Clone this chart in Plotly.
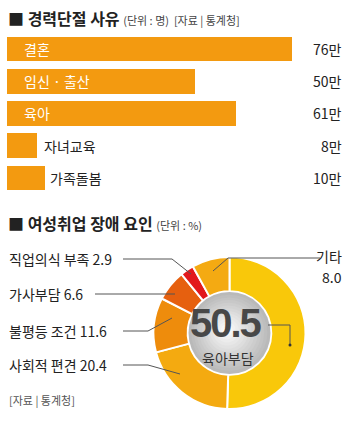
import plotly.graph_objects as go

W, H = 350, 422

# ---- data ----
bar_categories = ["결혼", "임신 · 출산", "육아", "자녀교육", "가족돌봄"]
bar_values = [76, 50, 61, 8, 10]
bar_value_labels = ["76만", "50만", "61만", "8만", "10만"]

pie_labels = ["육아부담", "사회적 편견", "불평등 조건", "가사부담", "직업의식 부족", "기타"]
pie_values = [50.5, 20.4, 11.6, 6.6, 2.9, 8.0]
pie_colors = ["#F9C80A", "#F4AA10", "#EE8C0C", "#E6600F", "#E2181C", "#F4AA12"]

FONT = "Noto Sans CJK KR"
BAR_COLOR = "#F39A10"


def px(x):
    return x / W


def py(y):
    return 1 - y / H


fig = go.Figure()

fig.add_trace(go.Bar(
    x=bar_values, y=bar_categories, orientation="h",
    marker=dict(color=BAR_COLOR, line=dict(width=0)),
    width=0.76, hoverinfo="skip", xaxis="x", yaxis="y",
))

fig.add_trace(go.Pie(
    labels=pie_labels, values=pie_values, sort=False, direction="clockwise",
    rotation=0, hole=0.55, textinfo="none", showlegend=False,
    marker=dict(colors=pie_colors, line=dict(color="white", width=2)),
    domain=dict(x=[px(153.5), px(305.5)], y=[py(409), py(257)]),
))

annotations = []
shapes = []

# titles
annotations.append(dict(
    x=px(6), y=py(18), xref="paper", yref="paper", xanchor="left", yanchor="middle",
    showarrow=False,
    text="<b>■ 경력단절 사유</b> <span style='font-size:11px;color:#444'>(단위 : 명)  [자료 | 통계청]</span>",
    font=dict(family=FONT, size=16, color="#222"),
))
annotations.append(dict(
    x=px(6), y=py(223), xref="paper", yref="paper", xanchor="left", yanchor="middle",
    showarrow=False,
    text="<b>■ 여성취업 장애 요인</b> <span style='font-size:11px;color:#444'>(단위 : %)</span>",
    font=dict(family=FONT, size=16, color="#222"),
))
annotations.append(dict(
    x=px(7), y=py(400), xref="paper", yref="paper", xanchor="left", yanchor="middle",
    showarrow=False, text="[자료 | 통계청]",
    font=dict(family=FONT, size=11, color="#555"),
))

# bar labels
label_x = [22, 22, 22, 42, 48]
label_col = ["white", "white", "white", "#222", "#222"]
for cat, lx, lc, vl in zip(bar_categories, label_x, label_col, bar_value_labels):
    annotations.append(dict(
        x=px(lx), y=cat, xref="paper", yref="y", xanchor="left", yanchor="middle",
        showarrow=False, text=cat, font=dict(family=FONT, size=14, color=lc),
    ))
    annotations.append(dict(
        x=px(344), y=cat, xref="paper", yref="y", xanchor="right", yanchor="middle",
        showarrow=False, text=vl, font=dict(family=FONT, size=14, color="#222"),
    ))

# pie center gradient
cx, cy = 229.5, 333
steps = 14
r0 = 41
for i in range(steps):
    r = r0 * (1 - i / steps)
    t = i / (steps - 1)
    g = int(185 + (252 - 185) * t)
    col = f"rgb({g},{g},{g})"
    ox, oy = -3 * t, -3 * t
    shapes.append(dict(
        type="circle", xref="paper", yref="paper",
        x0=px(cx + ox - r), x1=px(cx + ox + r), y0=py(cy + oy + r), y1=py(cy + oy - r),
        fillcolor=col, line=dict(width=0), layer="above",
    ))

annotations.append(dict(
    x=px(226), y=py(323), xref="paper", yref="paper", xanchor="center", yanchor="middle",
    showarrow=False, text="<b><span style='letter-spacing:-2px'>50.5</span></b>",
    font=dict(family="Liberation Sans", size=40, color="#484848"),
))
annotations.append(dict(
    x=px(228), y=py(358), xref="paper", yref="paper", xanchor="center", yanchor="middle",
    showarrow=False, text="육아부담",
    font=dict(family=FONT, size=14, color="#333"),
))

# pie outside labels
side_labels = [
    ("직업의식 부족 2.9", 259),
    ("가사부담 6.6", 294),
    ("불평등 조건 11.6", 331),
    ("사회적 편견 20.4", 365),
]
for txt, yy in side_labels:
    annotations.append(dict(
        x=px(7), y=py(yy), xref="paper", yref="paper", xanchor="left", yanchor="middle",
        showarrow=False, text=txt, font=dict(family=FONT, size=14, color="#222"),
    ))
annotations.append(dict(
    x=px(344), y=py(256), xref="paper", yref="paper", xanchor="right", yanchor="middle",
    showarrow=False, text="기타", font=dict(family=FONT, size=14, color="#222"),
))
annotations.append(dict(
    x=px(344), y=py(277), xref="paper", yref="paper", xanchor="right", yanchor="middle",
    showarrow=False, text="8.0", font=dict(family=FONT, size=14, color="#222"),
))

LC = "#555"
polylines = [
    [(123, 259), (172, 259), (191, 274)],
    [(95, 294), (175, 294)],
    [(123, 331), (148, 331), (172, 318)],
    [(123, 365), (148, 365), (180, 374)],
    [(320, 258), (228, 258), (213, 271)],
    [(268, 325), (290, 325), (290, 344)],
]
for pts in polylines:
    for (x0, y0), (x1, y1) in zip(pts[:-1], pts[1:]):
        shapes.append(dict(
            type="line", xref="paper", yref="paper",
            x0=px(x0), y0=py(y0), x1=px(x1), y1=py(y1),
            line=dict(color=LC, width=1), layer="above",
        ))
shapes.append(dict(
    type="circle", xref="paper", yref="paper",
    x0=px(288.5), x1=px(291.5), y0=py(346.5), y1=py(343.5),
    fillcolor="#333", line=dict(width=0), layer="above",
))

fig.update_layout(
    width=W, height=H, margin=dict(l=0, r=0, t=0, b=0),
    paper_bgcolor="white", plot_bgcolor="white",
    showlegend=False, bargap=0,
    xaxis=dict(domain=[px(7), px(343)], range=[0, 89.6], visible=False, fixedrange=True),
    yaxis=dict(domain=[py(194), py(33)], range=[4.5, -0.5], visible=False,
               categoryorder="array", categoryarray=bar_categories, fixedrange=True),
    annotations=annotations, shapes=shapes,
    font=dict(family=FONT),
)

fig.write_html("out.html", config={"displayModeBar": False})
